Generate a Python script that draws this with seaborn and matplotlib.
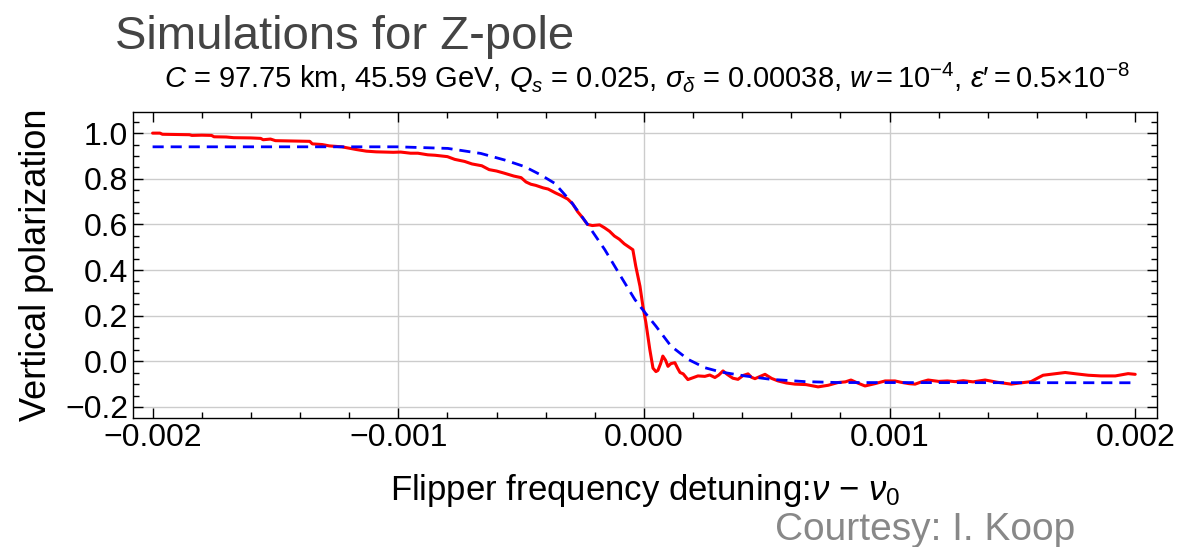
import numpy as np
import pandas as pd
import matplotlib
matplotlib.use("Agg")
import matplotlib.pyplot as plt
import seaborn as sns
from matplotlib.ticker import MultipleLocator

# simulated polarization (red)
sim_x = [-0.002, -0.00197, -0.00196, -0.00190, -0.00185, -0.00184, -0.00180, -0.00176,
         -0.00175, -0.00170, -0.00167, -0.00160, -0.00156, -0.00155, -0.00152, -0.00150,
         -0.00145, -0.00140, -0.00136, -0.00135, -0.00131, -0.00128, -0.00123, -0.00120,
         -0.00117, -0.00113, -0.00109, -0.00105, -0.00102, -0.00099, -0.00095, -0.00092,
         -0.00088, -0.00085, -0.00080, -0.00077, -0.00073, -0.00070, -0.00066, -0.00063,
         -0.00060, -0.00057, -0.00053, -0.00050, -0.00048, -0.00046, -0.00044, -0.00041,
         -0.00039, -0.00036, -0.00034, -0.00031, -0.00029, -0.00027, -0.00025, -0.00023,
         -0.00021, -0.00018, -0.00016, -0.00014, -0.00012, -0.00010, -0.00008, -0.00006,
         -0.000045, -0.000033, -0.000016, -0.000004, 0.000008, 0.000024, 0.000037,
         0.000049, 0.000057, 0.000068, 0.000077, 0.000088, 0.000098, 0.00011, 0.000126,
         0.000137, 0.000147, 0.00016, 0.000179, 0.0002, 0.00022, 0.000248, 0.000268,
         0.000289, 0.000305, 0.000322, 0.00034, 0.000362, 0.000383, 0.000404, 0.000424,
         0.000438, 0.000452, 0.000473, 0.000493, 0.00052, 0.000546, 0.00058, 0.000615,
         0.00066, 0.000709, 0.00075, 0.00079, 0.00082, 0.000843, 0.00087, 0.0009,
         0.00094, 0.000982, 0.001022, 0.001047, 0.00108, 0.001104, 0.00113, 0.001157,
         0.0012, 0.001235, 0.001267, 0.0013, 0.00134, 0.001389, 0.00144, 0.001495,
         0.00153, 0.001576, 0.0016, 0.001625, 0.00167, 0.001715, 0.00176, 0.001809,
         0.00186, 0.001919, 0.00195, 0.001971, 0.002]
sim_y = [1.0, 1.0, 0.995, 0.994, 0.993, 0.990, 0.991, 0.990,
         0.984, 0.983, 0.980, 0.979, 0.977, 0.971, 0.974, 0.967,
         0.966, 0.965, 0.964, 0.953, 0.950, 0.944, 0.940, 0.934,
         0.928, 0.921, 0.918, 0.917, 0.916, 0.917, 0.912, 0.912,
         0.905, 0.903, 0.897, 0.885, 0.876, 0.865, 0.857, 0.840,
         0.834, 0.825, 0.812, 0.805, 0.786, 0.776, 0.771, 0.760,
         0.755, 0.738, 0.728, 0.711, 0.690, 0.656, 0.630, 0.600,
         0.595, 0.598, 0.585, 0.570, 0.549, 0.535, 0.515, 0.500,
         0.489, 0.416, 0.329, 0.241, 0.170, 0.052, -0.030,
         -0.045, -0.040, -0.010, 0.023, 0.005, -0.022, -0.010, -0.006,
         -0.030, -0.049, -0.055, -0.080, -0.072, -0.064, -0.066, -0.060,
         -0.071, -0.060, -0.042, -0.058, -0.074, -0.079, -0.062, -0.055,
         -0.070, -0.076, -0.066, -0.057, -0.075, -0.086, -0.095, -0.100,
         -0.102, -0.112, -0.105, -0.093, -0.090, -0.082, -0.095, -0.108,
         -0.098, -0.086, -0.086, -0.092, -0.098, -0.100, -0.090, -0.082,
         -0.088, -0.086, -0.089, -0.085, -0.090, -0.082, -0.092, -0.100,
         -0.095, -0.089, -0.075, -0.061, -0.055, -0.049, -0.055, -0.061,
         -0.064, -0.064, -0.058, -0.054, -0.057]

# theory (blue dashed)
th_x = [-0.002, -0.001002, -0.000798, -0.000664, -0.000566, -0.000485, -0.00042,
        -0.000363, -0.000297, -0.000228, -0.000159, -0.000094, -0.000037, 0.000004,
        0.000049, 0.00011, 0.000179, 0.000248, 0.000314, 0.000411, 0.000517,
        0.000656, 0.00079, 0.002]
th_y = [0.94, 0.94, 0.933, 0.911, 0.882, 0.853, 0.817,
        0.78, 0.7, 0.598, 0.489, 0.372, 0.271, 0.214,
        0.154, 0.067, 0.009, -0.028, -0.047, -0.064, -0.079,
        -0.089, -0.093, -0.094]

sim = pd.DataFrame({"x": sim_x, "y": sim_y})
th = pd.DataFrame({"x": th_x, "y": th_y})

sns.set_style("ticks")
plt.rcParams["font.family"] = ["Liberation Sans", "DejaVu Sans"]
plt.rcParams["mathtext.fontset"] = "custom"
plt.rcParams["mathtext.rm"] = "Liberation Sans"
plt.rcParams["mathtext.it"] = "Liberation Sans:italic"
plt.rcParams["text.color"] = "black"
plt.rcParams["axes.labelcolor"] = "black"

fig = plt.figure(figsize=(11.87, 5.47), dpi=100)
ax = fig.add_axes([0.112, 0.236, 0.863, 0.559])

sns.lineplot(data=sim, x="x", y="y", ax=ax, color="red", lw=2.2, estimator=None, sort=False)
sns.lineplot(data=th, x="x", y="y", ax=ax, color="blue", lw=2, linestyle=(0, (4, 2.5)),
             estimator=None, sort=False)

ax.set_xlim(-0.00208, 0.00209)
ax.set_ylim(-0.248, 1.092)
ax.set_xticks([-0.002, -0.001, 0.0, 0.001, 0.002])
ax.set_xticklabels(["\u22120.002", "\u22120.001", "0.000", "0.001", "0.002"])
ax.set_yticks([-0.2, 0.0, 0.2, 0.4, 0.6, 0.8, 1.0])
ax.set_yticklabels(["\u22120.2", "0.0", "0.2", "0.4", "0.6", "0.8", "1.0"])
ax.xaxis.set_minor_locator(MultipleLocator(0.0002))
ax.yaxis.set_minor_locator(MultipleLocator(0.05))
ax.tick_params(which="both", direction="in", top=True, right=True, labelsize=23, width=1,
               colors="black")
ax.tick_params(which="major", length=7)
ax.tick_params(which="minor", length=4)

for gx in [-0.001, 0.0, 0.001]:
    ax.axvline(gx, color="#cccccc", lw=1, zorder=0)
for gy in [-0.2, 0.0, 0.2, 0.4, 0.6, 0.8, 1.0]:
    ax.axhline(gy, color="#cccccc", lw=1, zorder=0)

for s in ax.spines.values():
    s.set_linewidth(1)
    s.set_color("black")

ax.set_xlabel(r"Flipper frequency detuning:$\nu$ $-$ $\nu_0$", fontsize=25, labelpad=14)
ax.set_ylabel("Vertical polarization", fontsize=26, labelpad=8)

fig.text(0.097, 0.91, "Simulations for Z-pole", fontsize=34, color="#444444", ha="left", va="baseline")
fig.text(0.545, 0.84,
         r"$C$ = 97.75 km, 45.59 GeV, $Q_s$ = 0.025, $\sigma_\delta$ = 0.00038, "
         r"$w$$=$$10^{-4}$, $\epsilon$′$=$$0.5{\times}10^{-8}$",
         fontsize=21, ha="center", va="baseline")
fig.text(0.653, 0.012, "Courtesy: I. Koop", fontsize=28, color="#888888", ha="left", va="baseline")

fig.savefig("out.png", dpi=100)
